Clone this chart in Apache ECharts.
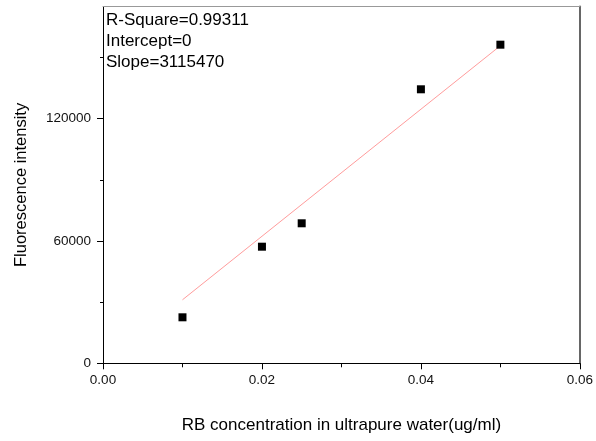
<!DOCTYPE html>
<html>
<head>
<meta charset="utf-8">
<script src="https://cdn.jsdelivr.net/npm/echarts@6/dist/echarts.min.js"></script>
<style>
html,body{margin:0;padding:0;background:#fff;}
#chart{width:596px;height:441px;}
</style>
</head>
<body>
<div id="chart"></div>
<script>
var concentration = [0.01, 0.02, 0.025, 0.04, 0.05];
var intensity = [22560, 57190, 68670, 134390, 156270];
var fitX = [0.01, 0.05];
var fitY = [31150, 155770];
var yMajorTicks = [0, 60000, 120000];
var yMinorTicks = [30000, 90000, 150000];
var statsLines = ['R-Square=0.99311', 'Intercept=0', 'Slope=3115470'];
var xName = 'RB concentration in ultrapure water(ug/ml)';
var yName = 'Fluorescence intensity';

var chart = echarts.init(document.getElementById('chart'), null, {renderer: 'canvas'});
var FONT = 'Liberation Sans, Arial, sans-serif';

var scatterData = concentration.map(function (c, i) { return [c, intensity[i]]; });
var fitData = fitX.map(function (c, i) { return [c, fitY[i]]; });

chart.setOption({
  backgroundColor: '#fff',
  animation: false,
  grid: {left: 103, right: 15.5, top: 6.5, bottom: 77.7, containLabel: false},
  xAxis: [{
    type: 'value', min: 0, max: 0.06, interval: 0.02,
    name: xName, nameLocation: 'middle', nameGap: 54,
    nameTextStyle: {fontFamily: FONT, fontSize: 17, color: '#000'},
    axisLine: {show: true, onZero: false, lineStyle: {color: '#000', width: 1}},
    axisTick: {show: true, inside: false, length: 6, lineStyle: {color: '#000'}},
    minorTick: {show: true, splitNumber: 2, length: 4, lineStyle: {color: '#000'}},
    axisLabel: {fontFamily: FONT, fontSize: 13.5, color: '#111', margin: 10,
      formatter: function (v) { return v.toFixed(2); }},
    splitLine: {show: false}, minorSplitLine: {show: false}
  }, {
    type: 'value', min: 0, max: 0.06, position: 'top',
    axisLine: {show: true, onZero: false, lineStyle: {color: '#999', width: 1}},
    axisTick: {show: false}, axisLabel: {show: false}, splitLine: {show: false}
  }],
  yAxis: [{
    type: 'value', min: 0, max: 175000, position: 'left',
    name: yName, nameLocation: 'middle', nameGap: 73,
    nameTextStyle: {fontFamily: FONT, fontSize: 16.5, color: '#000'},
    axisLine: {show: true, onZero: false, lineStyle: {color: '#000', width: 1}},
    axisTick: {show: true, inside: false, length: 6, customValues: yMajorTicks, lineStyle: {color: '#000'}},
    axisLabel: {fontFamily: FONT, fontSize: 13.5, color: '#111', margin: 12, customValues: yMajorTicks,
      formatter: function (v) { return String(v); }},
    splitLine: {show: false}
  }, {
    type: 'value', min: 0, max: 175000, position: 'left', offset: 0,
    axisLine: {show: false},
    axisTick: {show: true, inside: false, length: 3, customValues: yMinorTicks, lineStyle: {color: '#000'}},
    axisLabel: {show: false}, splitLine: {show: false}
  }, {
    type: 'value', min: 0, max: 175000, position: 'right',
    axisLine: {show: true, onZero: false, lineStyle: {color: '#666', width: 2}},
    axisTick: {show: false}, axisLabel: {show: false}, splitLine: {show: false}
  }],
  graphic: [{
    type: 'text', left: 106, top: 10,
    style: {text: statsLines.join('\n'), fontFamily: FONT, fontSize: 17, lineHeight: 21, fill: '#000'}
  }],
  series: [{
    type: 'line', data: fitData, xAxisIndex: 0, yAxisIndex: 0,
    symbol: 'none', lineStyle: {color: '#ff9c9c', width: 1}, z: 2
  }, {
    type: 'scatter', data: scatterData, xAxisIndex: 0, yAxisIndex: 0,
    symbol: 'rect', symbolSize: 8, itemStyle: {color: '#000', opacity: 1}, z: 3
  }]
});
</script>
</body>
</html>
